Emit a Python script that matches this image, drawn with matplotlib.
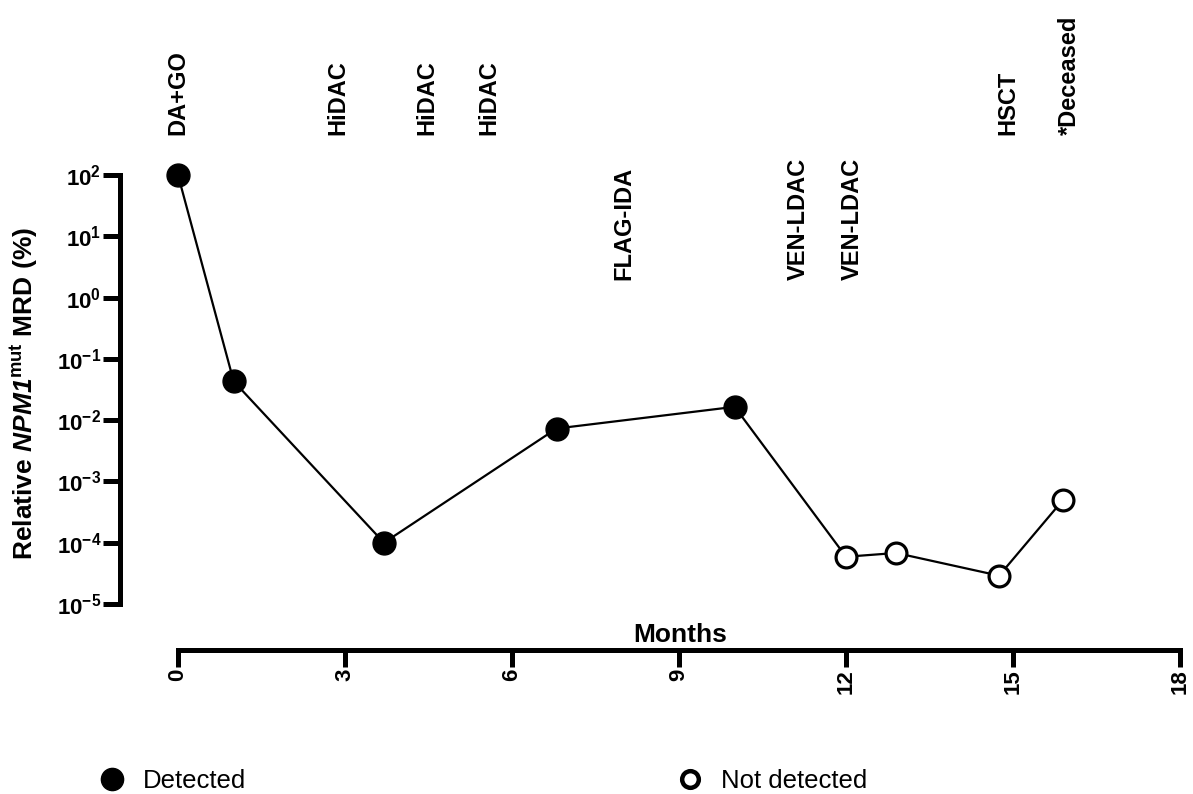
import matplotlib
matplotlib.use("Agg")
import matplotlib.pyplot as plt
from matplotlib.lines import Line2D

plt.rcParams['font.family'] = ['Liberation Sans', 'DejaVu Sans']
plt.rcParams['mathtext.fontset'] = 'custom'
plt.rcParams['mathtext.rm'] = 'Liberation Sans'
plt.rcParams['mathtext.bf'] = 'Liberation Sans:bold'
plt.rcParams['mathtext.it'] = 'Liberation Sans:italic'
plt.rcParams['mathtext.bfit'] = 'Liberation Sans:italic:bold'

# Data
months = [0.0, 1.0, 3.7, 6.8, 10.0, 12.0, 12.9, 14.75, 15.9]
mrd = [100, 0.043, 1.0e-4, 0.0073, 0.0165, 5.9e-5, 6.8e-5, 2.9e-5, 5.0e-4]
detected = [True, True, True, True, True, False, False, False, False]

treat_labels = ["DA+GO", "HiDAC", "HiDAC", "HiDAC", "FLAG-IDA",
                "VEN-LDAC", "VEN-LDAC", "HSCT", "*Deceased"]
treat_months = [0.0, 2.87, 4.47, 5.59, 8.01, 11.14, 12.12, 14.91, 16.02]
treat_level = ["high", "high", "high", "high", "low", "low", "low", "high", "high"]

xticks = [0, 3, 6, 9, 12, 15, 18]
yexp = [-5, -4, -3, -2, -1, 0, 1, 2]

W, H = 1193, 794
fig = plt.figure(figsize=(W / 100, H / 100), dpi=100)
x0, x1 = 178, 1180
y_top, y_bot = 175, 604
ax = fig.add_axes([x0 / W, 1 - y_bot / H, (x1 - x0) / W, (y_bot - y_top) / H])

ax.set_yscale('log')
ax.set_xlim(0, 18)
ax.set_ylim(1e-5, 1e2)

ax.plot(months, mrd, color='black', lw=1.6, zorder=2, clip_on=False)
for m, v, d in zip(months, mrd, detected):
    if d:
        ax.plot([m], [v], marker='o', ms=16.5, mfc='black', mec='black', clip_on=False, zorder=3)
    else:
        ax.plot([m], [v], marker='o', ms=15, mfc='white', mec='black', mew=2.3, clip_on=False, zorder=3)

for sp in ['top', 'right']:
    ax.spines[sp].set_visible(False)
ax.spines['left'].set_position(('outward', 58 * 0.72))
ax.spines['bottom'].set_position(('outward', 46 * 0.72))
ax.spines['left'].set_linewidth(3.6)
ax.spines['bottom'].set_linewidth(3.6)
ax.spines['left'].set_capstyle('projecting')
ax.spines['bottom'].set_capstyle('projecting')

ax.set_xticks(xticks)
ax.set_xticklabels([str(t) for t in xticks], rotation=90, fontsize=16, fontweight='bold')
ax.set_yticks([10.0 ** e for e in yexp])
ax.set_yticklabels([r'$\mathbf{10^{%d}}$' % e for e in yexp], fontsize=16)
ax.yaxis.set_minor_locator(matplotlib.ticker.NullLocator())
ax.tick_params(axis='both', which='major', width=3.6, length=12.5, direction='out', pad=1)

fig.text(24 / W, 1 - 393 / H,
         r'$\mathbf{Relative}$ $\mathbfit{NPM1}^{\mathbf{mut}}$ $\mathbf{MRD\ (\%)}$',
         rotation=90, ha='center', va='center', fontsize=19)
fig.text(680 / W, 1 - 635 / H, 'Months', ha='center', va='center', fontsize=19, fontweight='bold')

for lab, m, lv in zip(treat_labels, treat_months, treat_level):
    ybottom = 135 if lv == 'high' else 280
    xf = (x0 + (x1 - x0) * m / 18) / W
    fig.text(xf, 1 - ybottom / H, lab, rotation=90, ha='center', va='bottom',
             fontsize=17, fontweight='bold', rotation_mode='anchor' if False else 'default')

h1 = Line2D([], [], ls='none', marker='o', ms=16, mfc='black', mec='black')
h2 = Line2D([], [], ls='none', marker='o', ms=12, mfc='white', mec='black', mew=3.2)
leg_kw = dict(frameon=False, loc='center left', fontsize=18.5, handletextpad=0.7,
              handlelength=1.0, borderpad=0, borderaxespad=0)
fig.legend([h1], ['Detected'], bbox_to_anchor=(99 / W, 1 - 781 / H), **leg_kw)
fig.legend([h2], ['Not detected'], bbox_to_anchor=(677 / W, 1 - 781 / H), **leg_kw)

fig.savefig('out.png', dpi=100)
